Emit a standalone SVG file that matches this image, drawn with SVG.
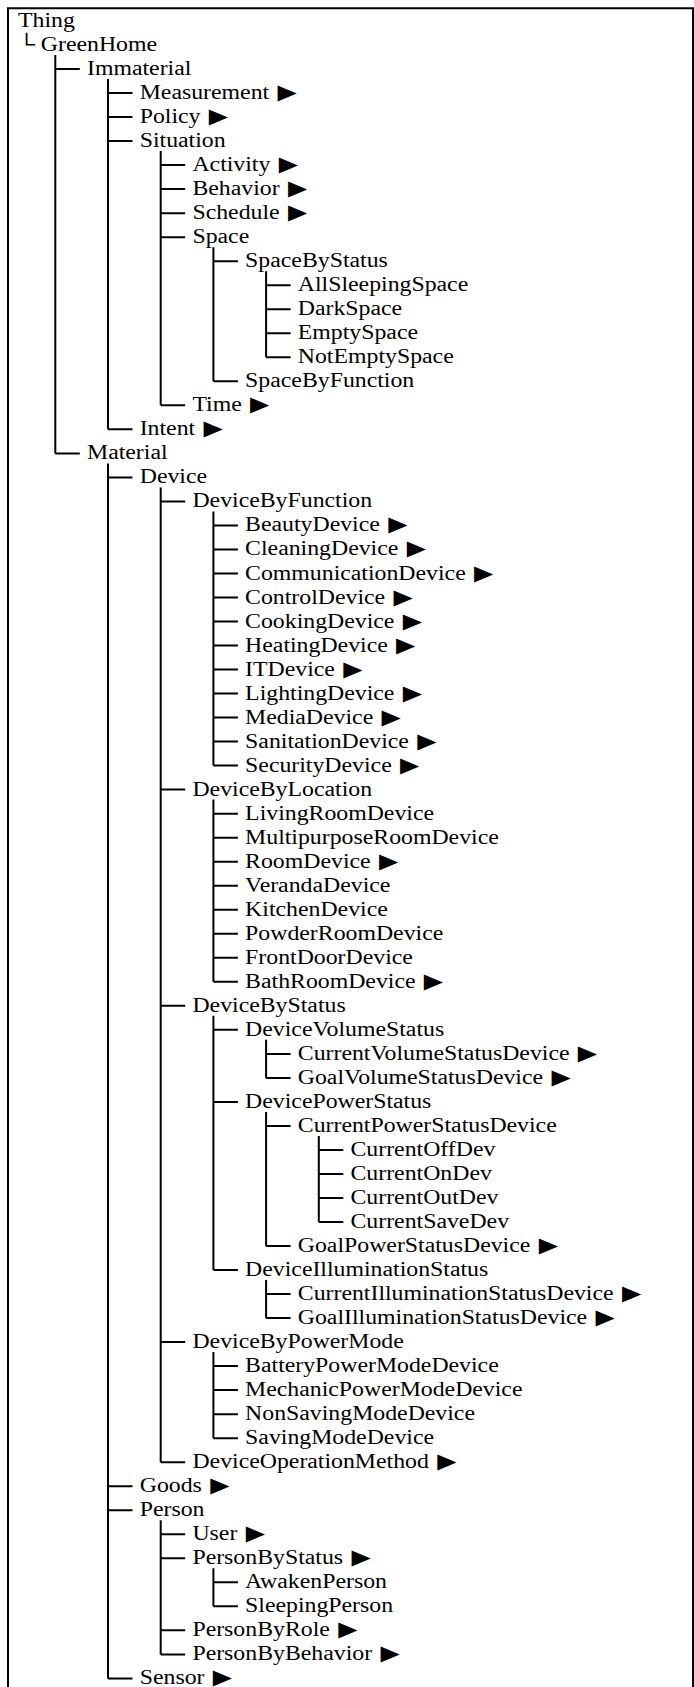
<svg xmlns="http://www.w3.org/2000/svg" width="694" height="1687" viewBox="0 0 694 1687">
<style>
.t{font-family:"Liberation Serif","Times New Roman",serif;font-size:20px;fill:#000;transform:scale(1.19,1)}
.a{font-family:"DejaVu Sans",sans-serif;font-size:21px}
.c{fill:none;stroke:#000;stroke-width:2}
.f{fill:none;stroke:#000;stroke-width:2}
</style>
<rect width="694" height="1687" fill="#fff"/>
<path class="f" d="M8,1687 V8.3 H693 V1687"/>
<g id="connectors">
<path class="c" d="M55.3,55 V453.4 M55.3,69 h24.5 M55.3,453.4 h24.5"/>
<path class="c" d="M108,79 V429.3 M108,93.1 h24.5 M108,117.1 h24.5 M108,141.1 h24.5 M108,429.3 h24.5"/>
<path class="c" d="M160.7,151.1 V405.3 M160.7,165.1 h24.5 M160.7,189.1 h24.5 M160.7,213.2 h24.5 M160.7,237.2 h24.5 M160.7,405.3 h24.5"/>
<path class="c" d="M213.4,247.2 V381.3 M213.4,261.2 h24.5 M213.4,381.3 h24.5"/>
<path class="c" d="M266.1,271.2 V357.3 M266.1,285.2 h24.5 M266.1,309.2 h24.5 M266.1,333.3 h24.5 M266.1,357.3 h24.5"/>
<path class="c" d="M108,463.4 V1678.4 M108,477.4 h24.5 M108,1486.2 h24.5 M108,1510.2 h24.5 M108,1678.4 h24.5"/>
<path class="c" d="M160.7,487.4 V1462.2 M160.7,501.4 h24.5 M160.7,789.6 h24.5 M160.7,1005.8 h24.5 M160.7,1342.1 h24.5 M160.7,1462.2 h24.5"/>
<path class="c" d="M213.4,511.4 V765.6 M213.4,525.4 h24.5 M213.4,549.4 h24.5 M213.4,573.5 h24.5 M213.4,597.5 h24.5 M213.4,621.5 h24.5 M213.4,645.5 h24.5 M213.4,669.5 h24.5 M213.4,693.6 h24.5 M213.4,717.6 h24.5 M213.4,741.6 h24.5 M213.4,765.6 h24.5"/>
<path class="c" d="M213.4,799.6 V981.8 M213.4,813.7 h24.5 M213.4,837.7 h24.5 M213.4,861.7 h24.5 M213.4,885.7 h24.5 M213.4,909.7 h24.5 M213.4,933.8 h24.5 M213.4,957.8 h24.5 M213.4,981.8 h24.5"/>
<path class="c" d="M213.4,1015.8 V1270 M213.4,1029.8 h24.5 M213.4,1101.9 h24.5 M213.4,1270 h24.5"/>
<path class="c" d="M266.1,1039.8 V1077.9 M266.1,1053.9 h24.5 M266.1,1077.9 h24.5"/>
<path class="c" d="M266.1,1111.9 V1246 M266.1,1125.9 h24.5 M266.1,1246 h24.5"/>
<path class="c" d="M318.8,1135.9 V1222 M318.8,1149.9 h24.5 M318.8,1174 h24.5 M318.8,1198 h24.5 M318.8,1222 h24.5"/>
<path class="c" d="M266.1,1280 V1318.1 M266.1,1294.1 h24.5 M266.1,1318.1 h24.5"/>
<path class="c" d="M213.4,1352.1 V1438.2 M213.4,1366.1 h24.5 M213.4,1390.1 h24.5 M213.4,1414.2 h24.5 M213.4,1438.2 h24.5"/>
<path class="c" d="M160.7,1520.2 V1654.4 M160.7,1534.3 h24.5 M160.7,1558.3 h24.5 M160.7,1630.3 h24.5 M160.7,1654.4 h24.5"/>
<path class="c" d="M213.4,1568.3 V1606.3 M213.4,1582.3 h24.5 M213.4,1606.3 h24.5"/>
</g>
<g id="n1" transform="translate(18,27)"><text class="t">Thing</text></g>
<g id="n2" transform="translate(18,51)"><text class="t">└ GreenHome</text></g>
<g id="n3" transform="translate(87,75)"><text class="t">Immaterial</text></g>
<g id="n4" transform="translate(139.7,99.1)"><text class="t">Measurement <tspan class="a" dx="2">▶</tspan></text></g>
<g id="n5" transform="translate(139.7,123.1)"><text class="t">Policy <tspan class="a" dx="2">▶</tspan></text></g>
<g id="n6" transform="translate(139.7,147.1)"><text class="t">Situation</text></g>
<g id="n7" transform="translate(192.4,171.1)"><text class="t">Activity <tspan class="a" dx="2">▶</tspan></text></g>
<g id="n8" transform="translate(192.4,195.1)"><text class="t">Behavior <tspan class="a" dx="2">▶</tspan></text></g>
<g id="n9" transform="translate(192.4,219.2)"><text class="t">Schedule <tspan class="a" dx="2">▶</tspan></text></g>
<g id="n10" transform="translate(192.4,243.2)"><text class="t">Space</text></g>
<g id="n11" transform="translate(245.1,267.2)"><text class="t">SpaceByStatus</text></g>
<g id="n12" transform="translate(297.8,291.2)"><text class="t">AllSleepingSpace</text></g>
<g id="n13" transform="translate(297.8,315.2)"><text class="t">DarkSpace</text></g>
<g id="n14" transform="translate(297.8,339.3)"><text class="t">EmptySpace</text></g>
<g id="n15" transform="translate(297.8,363.3)"><text class="t">NotEmptySpace</text></g>
<g id="n16" transform="translate(245.1,387.3)"><text class="t">SpaceByFunction</text></g>
<g id="n17" transform="translate(192.4,411.3)"><text class="t">Time <tspan class="a" dx="2">▶</tspan></text></g>
<g id="n18" transform="translate(139.7,435.3)"><text class="t">Intent <tspan class="a" dx="2">▶</tspan></text></g>
<g id="n19" transform="translate(87,459.4)"><text class="t">Material</text></g>
<g id="n20" transform="translate(139.7,483.4)"><text class="t">Device</text></g>
<g id="n21" transform="translate(192.4,507.4)"><text class="t">DeviceByFunction</text></g>
<g id="n22" transform="translate(245.1,531.4)"><text class="t">BeautyDevice <tspan class="a" dx="2">▶</tspan></text></g>
<g id="n23" transform="translate(245.1,555.4)"><text class="t">CleaningDevice <tspan class="a" dx="2">▶</tspan></text></g>
<g id="n24" transform="translate(245.1,579.5)"><text class="t">CommunicationDevice <tspan class="a" dx="2">▶</tspan></text></g>
<g id="n25" transform="translate(245.1,603.5)"><text class="t">ControlDevice <tspan class="a" dx="2">▶</tspan></text></g>
<g id="n26" transform="translate(245.1,627.5)"><text class="t">CookingDevice <tspan class="a" dx="2">▶</tspan></text></g>
<g id="n27" transform="translate(245.1,651.5)"><text class="t">HeatingDevice <tspan class="a" dx="2">▶</tspan></text></g>
<g id="n28" transform="translate(245.1,675.5)"><text class="t">ITDevice <tspan class="a" dx="2">▶</tspan></text></g>
<g id="n29" transform="translate(245.1,699.6)"><text class="t">LightingDevice <tspan class="a" dx="2">▶</tspan></text></g>
<g id="n30" transform="translate(245.1,723.6)"><text class="t">MediaDevice <tspan class="a" dx="2">▶</tspan></text></g>
<g id="n31" transform="translate(245.1,747.6)"><text class="t">SanitationDevice <tspan class="a" dx="2">▶</tspan></text></g>
<g id="n32" transform="translate(245.1,771.6)"><text class="t">SecurityDevice <tspan class="a" dx="2">▶</tspan></text></g>
<g id="n33" transform="translate(192.4,795.6)"><text class="t">DeviceByLocation</text></g>
<g id="n34" transform="translate(245.1,819.7)"><text class="t">LivingRoomDevice</text></g>
<g id="n35" transform="translate(245.1,843.7)"><text class="t">MultipurposeRoomDevice</text></g>
<g id="n36" transform="translate(245.1,867.7)"><text class="t">RoomDevice <tspan class="a" dx="2">▶</tspan></text></g>
<g id="n37" transform="translate(245.1,891.7)"><text class="t">VerandaDevice</text></g>
<g id="n38" transform="translate(245.1,915.7)"><text class="t">KitchenDevice</text></g>
<g id="n39" transform="translate(245.1,939.8)"><text class="t">PowderRoomDevice</text></g>
<g id="n40" transform="translate(245.1,963.8)"><text class="t">FrontDoorDevice</text></g>
<g id="n41" transform="translate(245.1,987.8)"><text class="t">BathRoomDevice <tspan class="a" dx="2">▶</tspan></text></g>
<g id="n42" transform="translate(192.4,1011.8)"><text class="t">DeviceByStatus</text></g>
<g id="n43" transform="translate(245.1,1035.8)"><text class="t">DeviceVolumeStatus</text></g>
<g id="n44" transform="translate(297.8,1059.9)"><text class="t">CurrentVolumeStatusDevice <tspan class="a" dx="2">▶</tspan></text></g>
<g id="n45" transform="translate(297.8,1083.9)"><text class="t">GoalVolumeStatusDevice <tspan class="a" dx="2">▶</tspan></text></g>
<g id="n46" transform="translate(245.1,1107.9)"><text class="t">DevicePowerStatus</text></g>
<g id="n47" transform="translate(297.8,1131.9)"><text class="t">CurrentPowerStatusDevice</text></g>
<g id="n48" transform="translate(350.5,1155.9)"><text class="t">CurrentOffDev</text></g>
<g id="n49" transform="translate(350.5,1180)"><text class="t">CurrentOnDev</text></g>
<g id="n50" transform="translate(350.5,1204)"><text class="t">CurrentOutDev</text></g>
<g id="n51" transform="translate(350.5,1228)"><text class="t">CurrentSaveDev</text></g>
<g id="n52" transform="translate(297.8,1252)"><text class="t">GoalPowerStatusDevice <tspan class="a" dx="2">▶</tspan></text></g>
<g id="n53" transform="translate(245.1,1276)"><text class="t">DeviceIlluminationStatus</text></g>
<g id="n54" transform="translate(297.8,1300.1)"><text class="t">CurrentIlluminationStatusDevice <tspan class="a" dx="2">▶</tspan></text></g>
<g id="n55" transform="translate(297.8,1324.1)"><text class="t">GoalIlluminationStatusDevice <tspan class="a" dx="2">▶</tspan></text></g>
<g id="n56" transform="translate(192.4,1348.1)"><text class="t">DeviceByPowerMode</text></g>
<g id="n57" transform="translate(245.1,1372.1)"><text class="t">BatteryPowerModeDevice</text></g>
<g id="n58" transform="translate(245.1,1396.1)"><text class="t">MechanicPowerModeDevice</text></g>
<g id="n59" transform="translate(245.1,1420.2)"><text class="t">NonSavingModeDevice</text></g>
<g id="n60" transform="translate(245.1,1444.2)"><text class="t">SavingModeDevice</text></g>
<g id="n61" transform="translate(192.4,1468.2)"><text class="t">DeviceOperationMethod <tspan class="a" dx="2">▶</tspan></text></g>
<g id="n62" transform="translate(139.7,1492.2)"><text class="t">Goods <tspan class="a" dx="2">▶</tspan></text></g>
<g id="n63" transform="translate(139.7,1516.2)"><text class="t">Person</text></g>
<g id="n64" transform="translate(192.4,1540.3)"><text class="t">User <tspan class="a" dx="2">▶</tspan></text></g>
<g id="n65" transform="translate(192.4,1564.3)"><text class="t">PersonByStatus <tspan class="a" dx="2">▶</tspan></text></g>
<g id="n66" transform="translate(245.1,1588.3)"><text class="t">AwakenPerson</text></g>
<g id="n67" transform="translate(245.1,1612.3)"><text class="t">SleepingPerson</text></g>
<g id="n68" transform="translate(192.4,1636.3)"><text class="t">PersonByRole <tspan class="a" dx="2">▶</tspan></text></g>
<g id="n69" transform="translate(192.4,1660.4)"><text class="t">PersonByBehavior <tspan class="a" dx="2">▶</tspan></text></g>
<g id="n70" transform="translate(139.7,1684.4)"><text class="t">Sensor <tspan class="a" dx="2">▶</tspan></text></g>
</svg>
